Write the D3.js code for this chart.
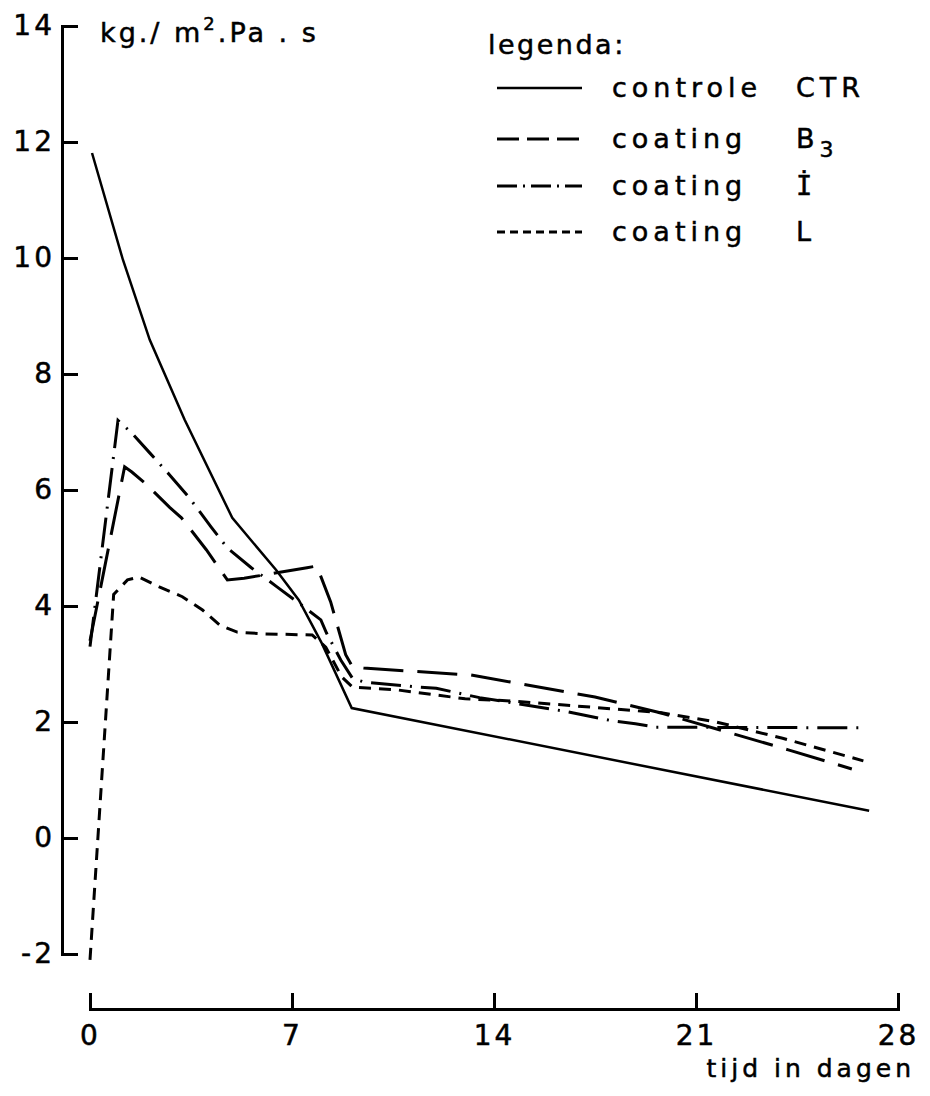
<!DOCTYPE html>
<html>
<head>
<meta charset="utf-8">
<script src="https://cdn.jsdelivr.net/npm/d3@7"></script>
<style>
  body { margin: 0; background: #fff; }
  svg { display: block; font-family: "DejaVu Sans", sans-serif; }
  text { fill: #000; stroke: #000; stroke-width: 0.5px; }
</style>
</head>
<body>
<svg id="chart"></svg>
<script>
// values (days, kg/m2.Pa.s)
const ctrDays = [0.07, 1.14, 2.07, 3.28, 4.93, 6.45, 7.24, 8.03, 9.07, 27.0];
const ctrValues = [11.81, 9.97, 8.59, 7.21, 5.52, 4.62, 4.1, 3.36, 2.24, 0.47];

const b3Days = [0, 1.2, 1.45, 1.97, 2.76, 3.17, 4.03, 4.76, 5.34, 5.97, 7.52, 7.86, 8.34, 8.86, 9.1, 9.48, 13.2, 17.5, 19.76, 22.2, 24.2, 26.4];
const b3Values = [3.4, 6.4, 6.31, 6.09, 5.7, 5.52, 4.97, 4.45, 4.48, 4.53, 4.66, 4.69, 4.07, 3.16, 2.95, 2.93, 2.81, 2.43, 2.16, 1.81, 1.52, 1.19];

const iDays = [0, 0.97, 1.45, 2.07, 2.76, 3.45, 4.2, 4.76, 5.59, 6.48, 7.24, 8.0, 8.2, 8.69, 9.1, 9.5, 11.4, 12.0, 13.5, 16.4, 18.1, 18.9, 19.6, 26.7];
const iValues = [3.3, 7.2, 6.98, 6.64, 6.26, 5.86, 5.36, 5.0, 4.66, 4.33, 4.05, 3.76, 3.53, 3.07, 2.75, 2.69, 2.6, 2.58, 2.42, 2.19, 2.02, 1.97, 1.91, 1.9];

const lDays = [0, 0.82, 1.3, 1.7, 2.4, 3.2, 3.9, 4.5, 5.1, 6.0, 7.7, 8.17, 8.72, 9.1, 10.7, 13.0, 14.7, 19.8, 21.7, 24.0, 26.8];
const lValues = [-2.1, 4.2, 4.45, 4.5, 4.33, 4.16, 3.93, 3.67, 3.55, 3.52, 3.5, 3.29, 2.78, 2.6, 2.55, 2.4, 2.36, 2.16, 2.0, 1.72, 1.33];

const yTicks = [-2, 0, 2, 4, 6, 8, 10, 12, 14];
const xTicks = [0, 7, 14, 21, 28];

const legendNames = ['controle', 'coating', 'coating', 'coating'];
const legendCodes = ['CTR', 'B', 'İ', 'L'];

const W = 930, H = 1096;
const svg = d3.select('#chart').attr('width', W).attr('height', H);

const x = d3.scaleLinear().domain([0, 28]).range([90, 898]);
const y = d3.scaleLinear().domain([-2, 14]).range([954, 26]);

// dash styles for each series: plot / legend sample
const styles = [
  { dash: null, legendDash: null, width: 2.5 },
  { dash: '40,14', legendDash: '22,8', width: 3 },
  { dash: '30,9,2,9', legendDash: '20,6,2,6', width: 3 },
  { dash: '12,8', legendDash: '8,5', width: 3 }
];

const series = [
  d3.zip(ctrDays, ctrValues),
  d3.zip(b3Days, b3Values),
  d3.zip(iDays, iValues),
  d3.zip(lDays, lValues)
];

// y axis, ticks pointing inward
const yAxis = svg.append('g')
  .attr('transform', 'translate(62,0)')
  .call(d3.axisLeft(y).tickValues(yTicks).tickSizeInner(-16).tickSizeOuter(-16)
    .tickPadding(7).tickFormat(d => String(d)));

// x axis, drawn lower and ticks pointing up
const xAxis = svg.append('g')
  .attr('transform', 'translate(0,1009)')
  .call(d3.axisBottom(x).tickValues(xTicks).tickSizeInner(-16).tickSizeOuter(-16)
    .tickPadding(16).tickFormat(d => String(d)));

[yAxis, xAxis].forEach(a => {
  a.attr('font-family', null).attr('font-size', null);
  a.selectAll('path, line').attr('stroke', '#000').attr('stroke-width', 3);
  a.selectAll('text').style('font-size', '28px').style('letter-spacing', '3px');
});

// lines
const line = d3.line().x(d => x(d[0])).y(d => y(d[1]));

svg.selectAll('.series')
  .data(series)
  .enter()
  .append('path')
  .attr('class', 'series')
  .attr('d', line)
  .attr('fill', 'none')
  .attr('stroke', '#000')
  .attr('stroke-width', (d, i) => styles[i].width)
  .attr('stroke-dasharray', (d, i) => styles[i].dash);

// unit label
const unit = svg.append('text')
  .attr('x', 100).attr('y', 42)
  .style('font-size', '27px').style('letter-spacing', '3px');
unit.append('tspan').text('kg./ m');
unit.append('tspan').attr('dy', -12).style('font-size', '18px').text('2');
unit.append('tspan').attr('dy', 12).text('.Pa . s');

// legend
svg.append('text')
  .attr('x', 488).attr('y', 54)
  .style('font-size', '27px').style('letter-spacing', '2.5px')
  .text('legenda:');

const rowY = [88, 139, 186, 232];
const rows = svg.selectAll('.leg')
  .data(legendNames)
  .enter()
  .append('g')
  .attr('class', 'leg')
  .attr('transform', (d, i) => `translate(0,${rowY[i]})`);

rows.append('line')
  .attr('x1', 497).attr('x2', 582)
  .attr('stroke', '#000')
  .attr('stroke-width', (d, i) => styles[i].width)
  .attr('stroke-dasharray', (d, i) => styles[i].legendDash);

rows.append('text')
  .attr('x', 612).attr('y', 9)
  .style('font-size', '27px').style('letter-spacing', '5px')
  .text(d => d);

rows.append('text')
  .attr('x', 796).attr('y', 9)
  .style('font-size', '27px').style('letter-spacing', '5px')
  .style('font-family', (d, i) => i === 2 ? '"DejaVu Sans Mono", monospace' : null)
  .each(function (d, i) {
    const t = d3.select(this);
    t.append('tspan').text(legendCodes[i]);
    if (i === 1) t.append('tspan').attr('dy', 9).style('font-size', '22px').text('3');
  });

// x axis title
svg.append('text')
  .attr('x', 915).attr('y', 1077)
  .attr('text-anchor', 'end')
  .style('font-size', '25px').style('letter-spacing', '4px')
  .text('tijd in dagen');
</script>
</body>
</html>
